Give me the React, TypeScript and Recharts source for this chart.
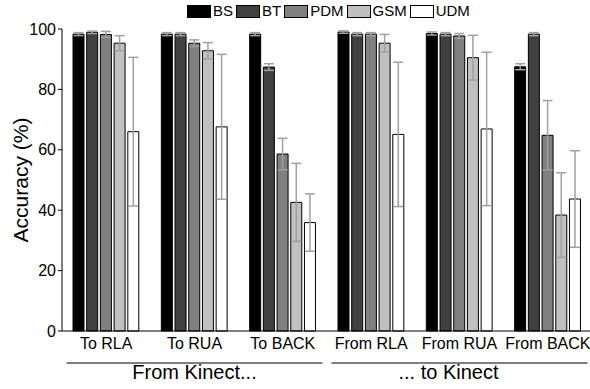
import { BarChart, Bar, XAxis, YAxis, ErrorBar, Legend } from 'recharts'

const categories = ['To RLA', 'To RUA', 'To BACK', 'From RLA', 'From RUA', 'From BACK']
const bs = [98.3, 98.3, 98.3, 99.0, 98.5, 87.5]
const bsErr = [0.5, 0.5, 0.5, 0.4, 0.5, 1.0]
const bt = [98.9, 98.3, 87.4, 98.3, 98.3, 98.3]
const btErr = [0.4, 0.5, 1.1, 0.5, 0.5, 0.5]
const pdm = [98.2, 95.3, 58.6, 98.3, 97.7, 64.8]
const pdmErr = [1.0, 1.1, 5.2, 0.5, 0.8, 11.5]
const gsm = [95.3, 92.8, 42.6, 95.3, 90.5, 38.4]
const gsmErr = [2.5, 2.7, 12.9, 2.9, 7.4, 14.0]
const udm = [66.0, 67.6, 35.9, 65.1, 66.9, 43.7]
const udmErr = [24.6, 24.0, 9.5, 23.9, 25.4, 16.0]
const yTicks = [0, 20, 40, 60, 80, 100]
const groupLabels = ['From Kinect...', '... to Kinect']

const series = [
  { key: 'BS', color: '#000000' },
  { key: 'BT', color: '#404040' },
  { key: 'PDM', color: '#808080' },
  { key: 'GSM', color: '#c0c0c0' },
  { key: 'UDM', color: '#ffffff' },
]

const data = categories.map((name, i) => ({
  name,
  BS: bs[i], BSErr: bsErr[i],
  BT: bt[i], BTErr: btErr[i],
  PDM: pdm[i], PDMErr: pdmErr[i],
  GSM: gsm[i], GSMErr: gsmErr[i],
  UDM: udm[i], UDMErr: udmErr[i],
}))

const font = '"Liberation Sans", Arial, sans-serif'

const LegendContent = () => (
  <div style={{ display: 'flex', alignItems: 'center', fontFamily: font, fontSize: 15, color: '#000', lineHeight: '16px' }}>
    {series.map((s) => (
      <div key={s.key} style={{ display: 'flex', alignItems: 'center', marginRight: 3 }}>
        <div style={{ width: 22, height: 11, background: s.color, border: '1px solid #000', marginRight: 2 }} />
        <span>{s.key}</span>
      </div>
    ))}
  </div>
)

// group captions under the category labels, one per half of the chart
const GroupTick = ({ x, y, index }: any) => {
  if (index !== 1 && index !== 4) return null
  const label = index === 1 ? groupLabels[0] : groupLabels[1]
  const dx = index === 1 ? 0 : -11
  return (
    <g>
      <line x1={x - 128} x2={x + 128} y1={y + 2} y2={y + 2} stroke="#000" strokeWidth={1} />
      <text x={x + dx} y={y + 18} textAnchor="middle" fontSize={20} fontFamily={font} fill="#000">
        {label}
      </text>
    </g>
  )
}

const App = () => {
  return (
    <div style={{ width: 590, height: 389, overflow: 'hidden', background: '#fff' }}>
      <style>{'body{margin:0}'}</style>
      <BarChart
        width={600}
        height={389}
        data={data}
        margin={{ top: 29, right: 8, left: 0, bottom: 0 }}
        barSize={11}
        barGap={2.7}
      >
        <XAxis
          xAxisId="x0"
          dataKey="name"
          tickLine={false}
          tickSize={4}
          tickMargin={3}
          height={30}
          stroke="#000"
          interval={0}
          tick={{ fill: '#000', fontSize: 16, fontFamily: font }}
        />
        <XAxis
          xAxisId="x1"
          dataKey="name"
          axisLine={false}
          tickLine={false}
          tickSize={0}
          tickMargin={0}
          height={28}
          interval={0}
          tick={<GroupTick />}
        />
        <XAxis
          xAxisId="x2"
          dataKey="name"
          orientation="top"
          height={0}
          tickSize={-4}
          stroke="#000"
          interval={0}
          tickFormatter={() => ''}
        />
        <YAxis
          yAxisId="left"
          domain={[0, 100]}
          ticks={yTicks}
          width={62}
          tickSize={4}
          tickMargin={2}
          stroke="#000"
          tick={{ fill: '#000', fontSize: 16, fontFamily: font }}
          label={{ value: 'Accuracy (%)', angle: -90, position: 'center', dx: -10, fontSize: 21, fontFamily: font, fill: '#000' }}
        />
        <YAxis
          yAxisId="right"
          orientation="right"
          domain={[0, 100]}
          ticks={yTicks}
          width={0}
          tickSize={-4}
          stroke="#000"
          tickFormatter={() => ''}
        />
        <Legend
          verticalAlign="middle"
          layout="horizontal"
          wrapperStyle={{ top: 3, left: 187, width: 'auto' }}
          content={<LegendContent />}
        />
        {series.map((s) => (
          <Bar
            key={s.key}
            dataKey={s.key}
            xAxisId="x0"
            yAxisId="left"
            fill={s.color}
            stroke="#000"
            strokeWidth={1}
            isAnimationActive={false}
          >
            <ErrorBar dataKey={`${s.key}Err`} width={5} stroke="#a0a0a0" strokeWidth={1.5} direction="y" />
          </Bar>
        ))}
      </BarChart>
    </div>
  )
}

export default App
